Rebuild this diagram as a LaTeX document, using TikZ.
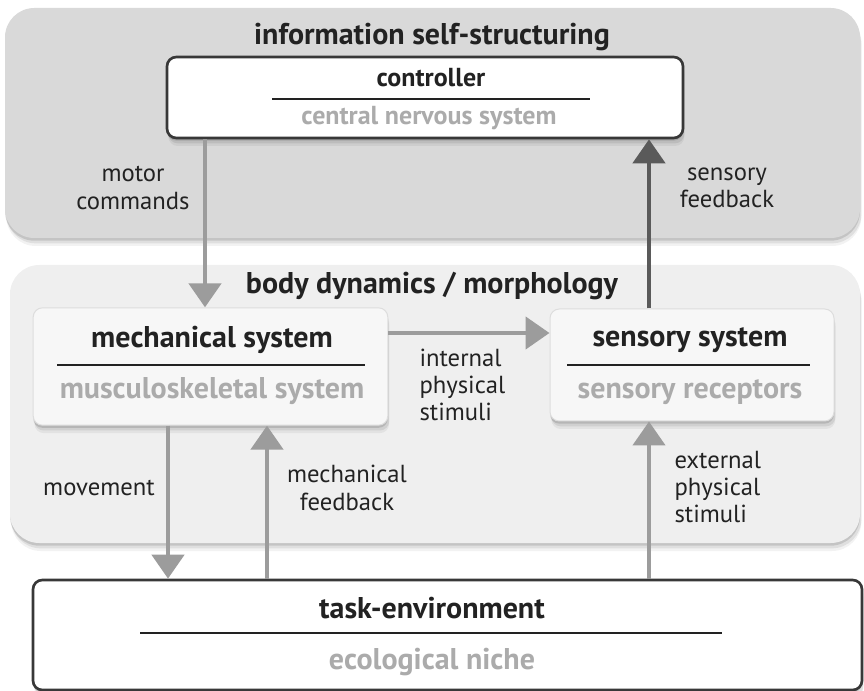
\documentclass[tikz,border=0pt]{standalone}
\usepackage{fontspec}
\setmainfont{PT Sans}
\usetikzlibrary{arrows.meta}

\definecolor{panelTop}{HTML}{D9D9D9}
\definecolor{panelBody}{HTML}{EFEFEF}
\definecolor{boxFill}{HTML}{F7F7F7}
\definecolor{boxEdge}{HTML}{DDDDDD}
\definecolor{darkEdge}{HTML}{383838}
\definecolor{textDark}{HTML}{222222}
\definecolor{subGray}{HTML}{ABABAB}
\definecolor{flowGray}{HTML}{9C9C9C}
\definecolor{flowDark}{HTML}{5A5A5A}

\tikzset{every picture/.style={line width=0.75pt}}
\tikzset{
  softshadow/.style={
    preaction={fill=black,opacity=0.05,transform canvas={xshift=1pt,yshift=-6pt}},
    preaction={fill=black,opacity=0.08,transform canvas={xshift=1pt,yshift=-4pt}},
    preaction={fill=black,opacity=0.12,transform canvas={yshift=-2pt}}},
  panel/.style={softshadow,rounded corners=22pt},
  sysbox/.style={softshadow,draw=boxEdge,fill=boxFill,rounded corners=7pt,inner sep=0pt},
  hardbox/.style={softshadow,draw=darkEdge,line width=2pt,fill=white,rounded corners=7pt,inner sep=0pt},
  paneltitle/.style={font=\bfseries\fontsize{22.5}{26}\selectfont,text=textDark,inner sep=0pt},
  boxtitle/.style={font=\bfseries\fontsize{22.5}{26}\selectfont,text=textDark,inner sep=0pt},
  boxsub/.style={font=\bfseries\fontsize{22.5}{26}\selectfont,text=subGray,inner sep=0pt},
  smalltext/.style={font=\bfseries\fontsize{19.5}{23}\selectfont},
  divider/.style={draw=textDark,line width=1pt},
  lbl/.style={font=\fontsize{18.5}{20.5}\selectfont,text=textDark,align=center,inner sep=0pt},
  lblleft/.style={lbl,align=left,anchor=west},
  flow/.style={draw=flowGray,line width=3.5pt,-{Triangle[length=18pt,width=24pt]}},
  flowback/.style={flow,draw=flowDark}
}

\begin{document}
\begin{tikzpicture}[x=0.75pt,y=0.75pt,yscale=-1,xscale=1]
\useasboundingbox (0,0) rectangle (864,691);

% panels
\fill[panel,fill=panelTop] (5,8) rectangle (860,238);
\fill[panel,fill=panelBody] (10,265) rectangle (860,543);

\node[paneltitle] (infoTitle) at (432,37) {information self-structuring};
\node[paneltitle] (bodyTitle) at (432,286) {body dynamics / morphology};

% boxes
\node[hardbox,minimum width=387pt,minimum height=60.75pt] (ctrl) at (425,97.5) {};
\node[sysbox,minimum width=266pt,minimum height=88pt] (mech) at (210.5,366.5) {};
\node[sysbox,minimum width=213pt,minimum height=84pt] (sens) at (692,365) {};
\node[hardbox,minimum width=621.75pt,minimum height=82.5pt] (task) at (447.5,635) {};

% box texts
\node[boxtitle,smalltext] (ctrlTitle) at (431,78) {controller};
\draw[divider] (272,99) -- (590,99);
\node[boxsub,smalltext] (ctrlSub) at (429,118) {central nervous system};

\node[boxtitle] (mechTitle) at (212,340) {mechanical system};
\draw[divider] (57,365) -- (365,365);
\node[boxsub] (mechSub) at (212,391) {musculoskeletal system};

\node[boxtitle] (sensTitle) at (690,340) {sensory system};
\draw[divider] (567,365) -- (810,365);
\node[boxsub] (sensSub) at (690,392) {sensory receptors};

\node[boxtitle] (taskTitle) at (432,608) {task-environment};
\draw[divider] (140,633) -- (722,633);
\node[boxsub] (taskSub) at (432,662) {ecological niche};

% connectors
\coordinate (xMotor) at (205,0);
\coordinate (xSense) at (649,0);
\coordinate (xMove) at (168,0);
\coordinate (xMechFb) at (267,0);
\coordinate (yInternal) at (0,333);

\draw[flow] (ctrl.south -| xMotor) -- (mech.north -| xMotor);
\draw[flowback] (sens.north -| xSense) -- (ctrl.south -| xSense);
\draw[flow] (mech.east |- yInternal) -- (sens.west |- yInternal);
\draw[flow] (mech.south -| xMove) -- (task.north -| xMove);
\draw[flow] (task.north -| xMechFb) -- (mech.south -| xMechFb);
\draw[flow] (task.north -| xSense) -- (sens.south -| xSense);

% labels
\node[lbl] (motorLbl) at (133,188) {motor\\commands};
\node[lbl] (sensFbLbl) at (727,188) {sensory\\feedback};
\node[lblleft] (internalLbl) at (419,385) {internal\\physical\\stimuli};
\node[lbl] (moveLbl) at (99,488) {movement};
\node[lbl] (mechFbLbl) at (347,488) {mechanical\\feedback};
\node[lblleft] (externalLbl) at (674,487) {external\\physical\\stimuli};

\end{tikzpicture}
\end{document}
